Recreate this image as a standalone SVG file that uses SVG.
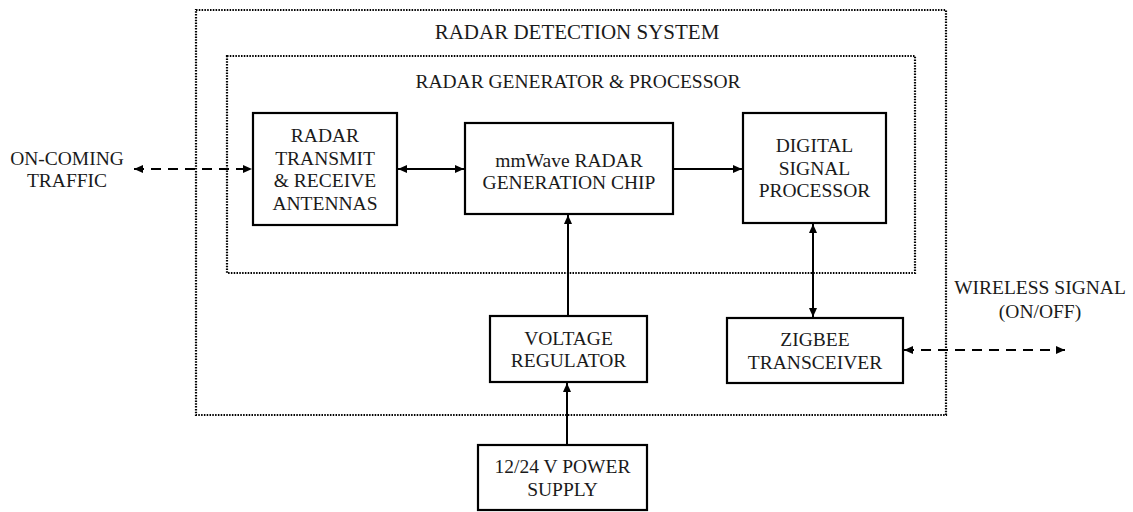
<svg xmlns="http://www.w3.org/2000/svg" width="1133" height="512" viewBox="0 0 1133 512">
<defs>
<marker id="ah" markerWidth="10" markerHeight="10" refX="9" refY="5" orient="auto-start-reverse" markerUnits="userSpaceOnUse">
<path d="M0,1 L9,5 L0,9 Z" fill="#000"/>
</marker>
<style>
.box{fill:#fff;stroke:#000;stroke-width:2.2}
.dot{fill:none;stroke:#000;stroke-width:2.2;stroke-dasharray:1.5 1.3}
.t{font-family:"Liberation Serif","Times New Roman",serif;font-size:19.5px;fill:#1a1a1a;text-anchor:middle}
.big{font-size:21px}
.ln{fill:none;stroke:#000;stroke-width:2}
.dash{fill:none;stroke:#000;stroke-width:2.2;stroke-dasharray:10 7}
</style>
</defs>
<rect width="1133" height="512" fill="#fff"/>
<g id="radar-detection-system">
<rect class="dot" x="196" y="10" width="750" height="405"/>
<text class="t big" x="577" y="39">RADAR DETECTION SYSTEM</text>
</g>
<g id="radar-generator-processor">
<rect class="dot" x="227" y="56" width="688" height="217"/>
<text class="t" x="578" y="88">RADAR GENERATOR &amp; PROCESSOR</text>
</g>
<g id="connectors">
<line class="dash" x1="134" y1="169" x2="252" y2="169" marker-start="url(#ah)" marker-end="url(#ah)"/>
<line class="ln" x1="398" y1="169" x2="464" y2="169" marker-start="url(#ah)" marker-end="url(#ah)"/>
<line class="ln" x1="674" y1="169" x2="742" y2="169" marker-end="url(#ah)"/>
<line class="ln" x1="568" y1="316" x2="568" y2="215" marker-end="url(#ah)"/>
<line class="ln" x1="813" y1="224" x2="813" y2="317" marker-start="url(#ah)" marker-end="url(#ah)"/>
<line class="ln" x1="567" y1="445" x2="567" y2="383" marker-end="url(#ah)"/>
<line class="dash" x1="904" y1="350" x2="1065" y2="350" marker-start="url(#ah)" marker-end="url(#ah)"/>
</g>
<g id="oncoming-traffic">
<text class="t" x="67" y="164.5">ON-COMING</text>
<text class="t" x="67" y="187">TRAFFIC</text>
</g>
<g id="wireless-signal">
<text class="t" x="1040" y="294">WIRELESS SIGNAL</text>
<text class="t" x="1040" y="318">(ON/OFF)</text>
</g>
<g id="antennas">
<rect class="box" x="253" y="113" width="144" height="112"/>
<text class="t" x="325" y="142">RADAR</text>
<text class="t" x="325" y="164.5">TRANSMIT</text>
<text class="t" x="325" y="187">&amp; RECEIVE</text>
<text class="t" x="325" y="209.5">ANTENNAS</text>
</g>
<g id="mmwave-chip">
<rect class="box" x="465" y="123" width="208" height="91"/>
<text class="t" x="569" y="166.5">mmWave RADAR</text>
<text class="t" x="569" y="189">GENERATION CHIP</text>
</g>
<g id="dsp">
<rect class="box" x="743" y="113" width="143" height="110"/>
<text class="t" x="814.5" y="152">DIGITAL</text>
<text class="t" x="814.5" y="174.5">SIGNAL</text>
<text class="t" x="814.5" y="197">PROCESSOR</text>
</g>
<g id="voltage-regulator">
<rect class="box" x="490" y="316" width="157" height="66"/>
<text class="t" x="568.5" y="344.5">VOLTAGE</text>
<text class="t" x="568.5" y="367">REGULATOR</text>
</g>
<g id="zigbee">
<rect class="box" x="727" y="318" width="176" height="65"/>
<text class="t" x="815" y="346">ZIGBEE</text>
<text class="t" x="815" y="368.5">TRANSCEIVER</text>
</g>
<g id="power-supply">
<rect class="box" x="478" y="445" width="169" height="65"/>
<text class="t" x="562.5" y="473">12/24 V POWER</text>
<text class="t" x="562.5" y="495.5">SUPPLY</text>
</g>
</svg>
